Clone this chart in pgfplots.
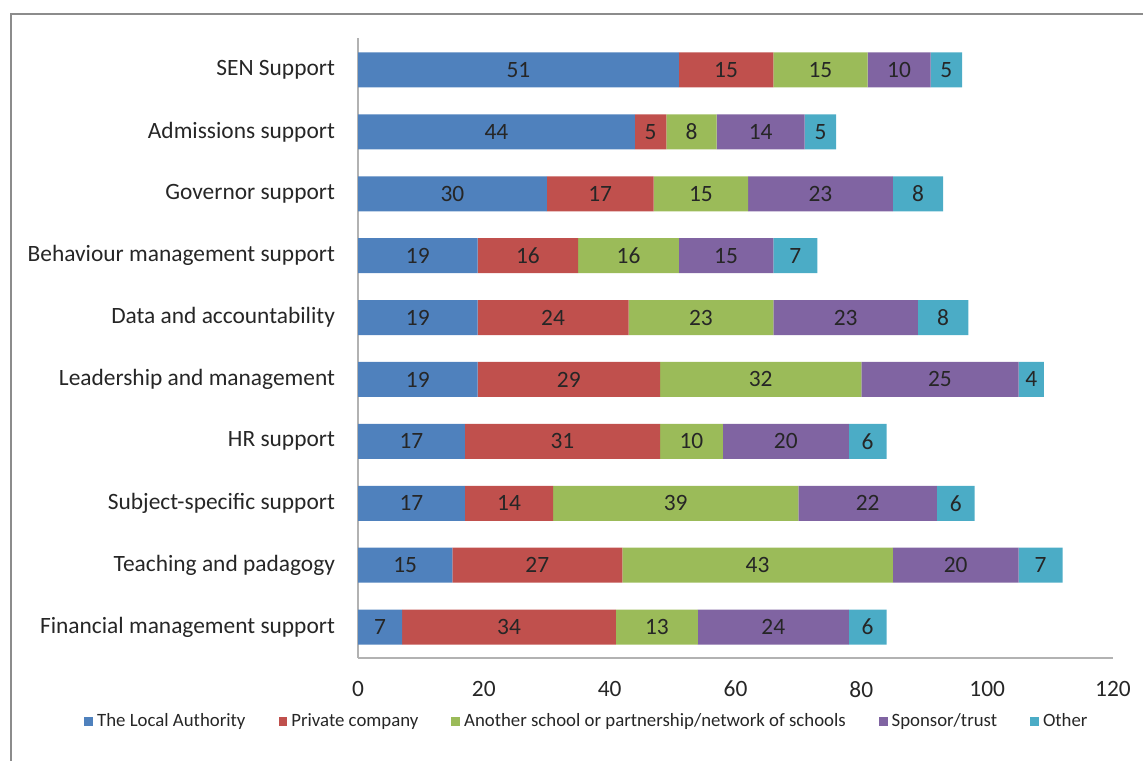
\documentclass[border=0pt]{standalone}
\usepackage{pgfplots}
\pgfplotsset{compat=1.18}
\usepackage{pgfplotstable}
\usepackage{fontspec}
\setmainfont{Carlito}
\definecolor{cA}{HTML}{4F81BD}
\definecolor{cB}{HTML}{C0504D}
\definecolor{cC}{HTML}{9BBB59}
\definecolor{cD}{HTML}{8064A2}
\definecolor{cE}{HTML}{4BACC6}
\pgfplotstableread{
pos a b c d e
0 7 34 13 24 6
1 15 27 43 20 7
2 17 14 39 22 6
3 17 31 10 20 6
4 19 29 32 25 4
5 19 24 23 23 8
6 19 16 16 15 7
7 30 17 15 23 8
8 44 5 8 14 5
9 51 15 15 10 5
}\datatable
\begin{document}
\begin{tikzpicture}
\useasboundingbox (0,0) rectangle (571.5pt,380pt);
\draw[black!45, line width=0.7pt] (5.5pt,-2pt) -- (5.5pt,373pt) -- (575pt,373pt);
\begin{axis}[
  at={(179pt,51pt)}, anchor=south west, scale only axis,
  width=377.5pt, height=310pt,
  xbar stacked, bar width=17.5pt,
  xmin=0, xmax=120, ymin=-0.5, ymax=9.517,
  xtick={0,20,...,120},
  ytick={0,...,9},
  yticklabels={Financial management support, Teaching and padagogy, Subject-specific support, HR support, Leadership and management, Data and accountability, Behaviour management support, Governor support, Admissions support, SEN Support},
  axis lines*=left,
  axis line style={-, black!30, line width=0.7pt},
  major tick length=0pt,
  /pgf/number format/assume math mode=true,
  tick label style={font=\fontsize{11.7}{14}\selectfont, text=black!85},
  yticklabel style={xshift=-8pt},
  xticklabel style={yshift=-8pt},
  nodes near coords,
  point meta=explicit,
  every node near coord/.style={font=\fontsize{11.7}{14}\selectfont, text=black!85, anchor=center},
  legend columns=5,
  legend style={at={(0.3046,-0.103)}, anchor=center, draw=none, fill=none,
    font=\fontsize{9.4}{11}\selectfont, text=black!85,
    /tikz/every even column/.append style={column sep=14.5pt}},
  legend image code/.code={\path[#1, draw=none] (0pt,-2.2pt) rectangle (4.4pt,2.2pt);},
]
\addplot[fill=cA, draw=none] table[x=a, y=pos, meta=a] {\datatable};
\addplot[fill=cB, draw=none] table[x=b, y=pos, meta=b] {\datatable};
\addplot[fill=cC, draw=none] table[x=c, y=pos, meta=c] {\datatable};
\addplot[fill=cD, draw=none] table[x=d, y=pos, meta=d] {\datatable};
\addplot[fill=cE, draw=none] table[x=e, y=pos, meta=e] {\datatable};
\legend{The Local Authority, Private company, Another school or partnership/network of schools, Sponsor/trust, Other}
\end{axis}
\end{tikzpicture}
\end{document}
